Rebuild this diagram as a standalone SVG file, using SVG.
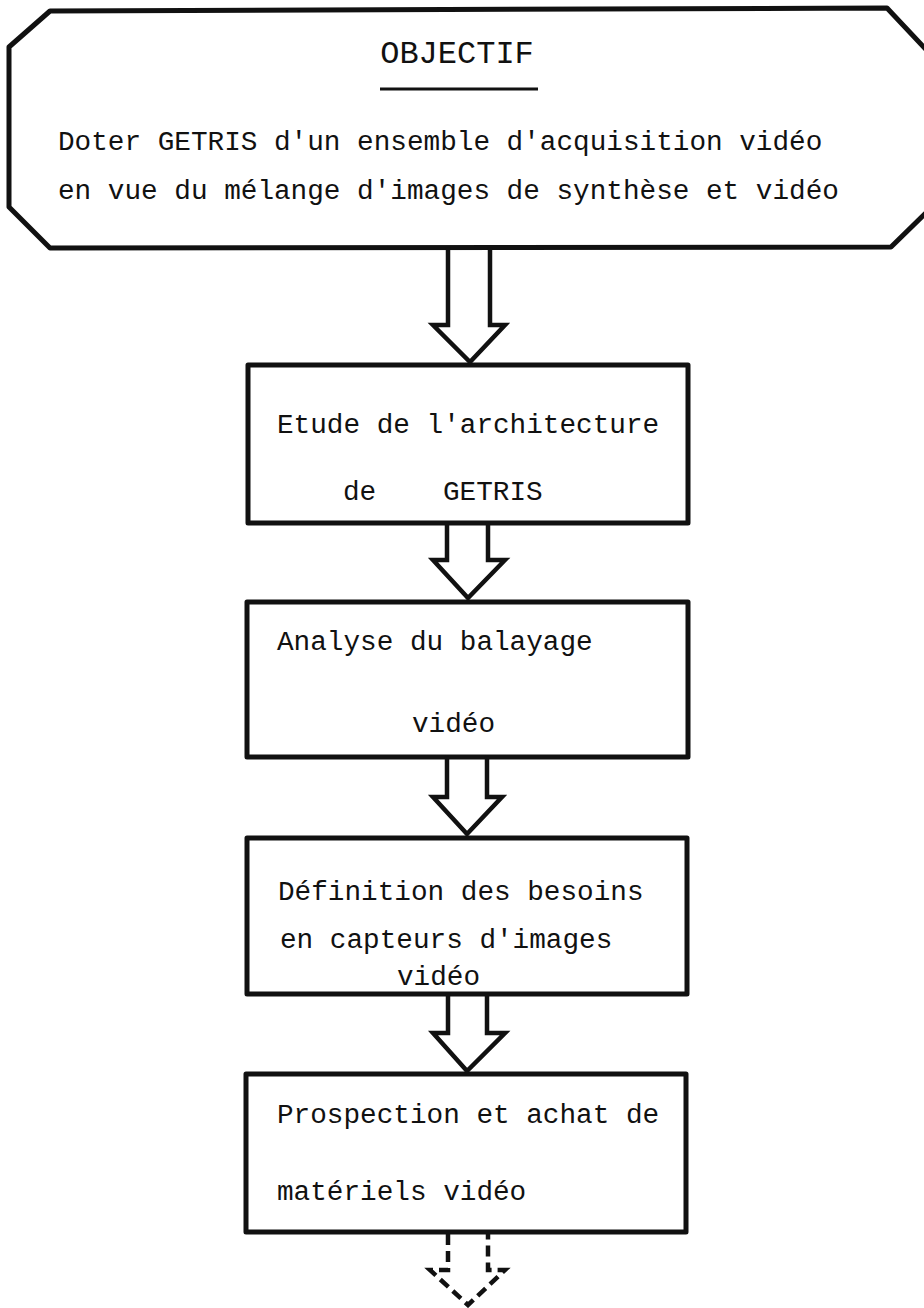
<svg xmlns="http://www.w3.org/2000/svg" width="924" height="1308" viewBox="0 0 924 1308">
<style>
  .box { fill: #ffffff; stroke: #111111; stroke-width: 5; stroke-linejoin: round; }
  .arrow { fill: none; stroke: #111111; stroke-width: 4.5; stroke-linejoin: miter; stroke-linecap: square; }
  .dashed { stroke-dasharray: 11 6; stroke-linecap: butt; }
  .t { font-family: "Liberation Mono", "Courier New", monospace; font-size: 27.7px; fill: #111111; }
  .title { font-family: "Liberation Mono", "Courier New", monospace; font-size: 32px; fill: #111111; }
</style>
<rect x="0" y="0" width="924" height="1308" fill="#ffffff"/>

<g id="objectif">
  <polygon class="box" points="50,11 887,8 934,58 934,205 891,247 50,248 9,207 9,47"/>
  <text class="title" x="457" y="63" text-anchor="middle">OBJECTIF</text>
  <line x1="380" y1="89" x2="538" y2="89" stroke="#111111" stroke-width="3"/>
  <text class="t" x="58" y="150">Doter GETRIS d'un ensemble d'acquisition vidéo</text>
  <text class="t" x="58" y="199">en vue du mélange d'images de synthèse et vidéo</text>
</g>

<g id="etude">
  <rect class="box" x="248" y="365" width="440" height="158"/>
  <text class="t" x="277" y="433">Etude de l'architecture</text>
  <text class="t" x="343" y="500">de</text>
  <text class="t" x="443" y="500">GETRIS</text>
</g>

<g id="analyse">
  <rect class="box" x="247" y="602" width="441" height="155"/>
  <text class="t" x="277" y="650">Analyse du balayage</text>
  <text class="t" x="412" y="732">vidéo</text>
</g>

<g id="definition">
  <rect class="box" x="247" y="838" width="440" height="156"/>
  <text class="t" x="278" y="900">Définition des besoins</text>
  <text class="t" x="280" y="948">en capteurs d'images</text>
  <text class="t" x="397" y="985">vidéo</text>
</g>

<g id="prospection">
  <rect class="box" x="246" y="1074" width="440" height="158"/>
  <text class="t" x="277" y="1123">Prospection et achat de</text>
  <text class="t" x="277" y="1200">matériels vidéo</text>
</g>

<g id="connectors">
  <polyline class="arrow" points="448,250 448,325 433,325 470,362 505,325 490,325 490,250"/>
  <polyline class="arrow" points="447,525 447,560 433,560 468,598 505,560 488,560 488,525"/>
  <polyline class="arrow" points="447,759 447,797 433,797 467,834 502,797 487,797 487,759"/>
  <polyline class="arrow" points="448,996 448,1033 433,1033 467,1071 505,1033 487,1033 487,996"/>
  <polyline class="arrow dashed" points="448,1234 448,1270 430,1270 468,1305 505,1270 488,1270 488,1234"/>
</g>
</svg>
